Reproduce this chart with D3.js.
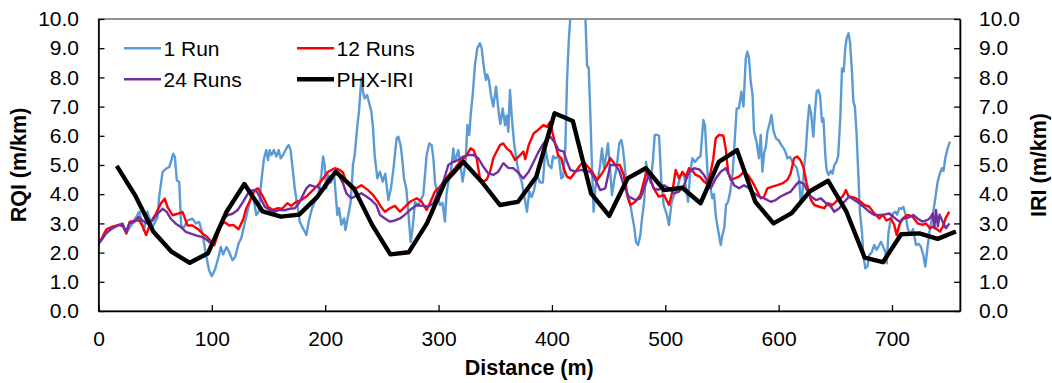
<!DOCTYPE html>
<html><head><meta charset="utf-8">
<script src="https://cdn.jsdelivr.net/npm/d3@7"></script>
<style>
html,body{margin:0;padding:0;background:#fff;}
svg text{font-family:"Liberation Sans",Arial,sans-serif;fill:#000;}
</style></head>
<body><svg id="chart" width="1052" height="383"></svg>
<script>
const xTicks=[0,100,200,300,400,500,600,700];
const yTicks=[0,1,2,3,4,5,6,7,8,9,10];
const seriesNames=["1 Run","12 Runs","24 Runs","PHX-IRI"];
const seriesColors=["#5B9BD5","#FF0000","#7030A0","#000000"];

const oneRun=[[0,2.3],[5,2.6],[10,2.8],[15,2.9],[20,2.95],[25,2.7],[30,3.0],[36,3.4],[40,2.75],[43,3.4],[47.6,2.88],[52,3.2],[53.5,3.9],[56.5,4.76],[59.4,4.87],[62.4,4.93],[63.8,5.1],[65.9,5.39],[67.4,5.27],[69.1,4.47],[71.2,4.42],[73,2.88],[75.6,2.88],[78.5,3.1],[82.9,3.16],[85.9,3.0],[88.8,3.05],[91.8,2.65],[94.1,2.08],[97.6,1.39],[100,1.19],[103,1.45],[105.9,1.85],[107.9,2.19],[110,1.94],[112.9,2.19],[115.3,2.02],[118.2,1.74],[120.6,1.85],[123.5,2.3],[126,2.5],[129,3.0],[132,3.5],[134.8,3.97],[137,3.8],[139.2,3.29],[141.3,3.4],[143.6,4.43],[146,5.23],[148,5.51],[149.5,5.17],[151,5.51],[152.5,5.34],[154.8,5.51],[156.9,5.29],[159,5.51],[160.7,5.23],[162.8,5.34],[166.6,5.63],[167.8,5.68],[169.5,5.51],[171.6,4.77],[173.1,4.2],[175.4,3.63],[177.5,3.06],[180.4,2.83],[183.4,2.6],[185.4,3.06],[188.4,3.52],[190.7,3.74],[193.5,3.9],[196.6,4.66],[198.1,5.29],[199.5,5.0],[201,4.2],[202.5,4.66],[205,4.4],[207.8,4.71],[210.7,3.29],[212.2,3.52],[214.2,2.95],[216.6,3.17],[217.8,2.77],[220.1,3.23],[222.5,3.74],[224.5,5.0],[226,5.34],[228.4,6.37],[229.8,6.83],[231.9,7.97],[233.4,7.51],[234.8,7.28],[237,7.4],[240.7,6.83],[242.2,6.26],[243.6,5.34],[246,4.54],[248.3,4.77],[250.7,4.43],[253,4.7],[255.7,3.8],[258,4.2],[260.1,4.83],[263,5.91],[264.5,5.97],[266.5,5.68],[268,5.2],[269.5,4.54],[271.5,4.2],[273.3,3.4],[275.4,2.37],[277.1,2.83],[279.2,3.74],[282,3.6],[284,3.8],[286.5,3.97],[289.5,5.34],[291.8,5.74],[293.9,5.68],[295.5,5.2],[296.8,4.43],[299,4.0],[301.2,3.63],[303.5,3.7],[305.6,3.06],[307,4.0],[309,4.5],[311,4.8],[313,5.57],[314.5,5.11],[317.4,5.51],[319,5.1],[321.2,4.43],[322.7,4.8],[324.2,5.34],[325.4,6.37],[327.1,6.03],[328.3,6.71],[330.1,7.4],[332.1,8.42],[334.2,9.0],[336.5,9.17],[338,9.0],[340.1,8.31],[341.8,7.91],[343,8.1],[344.5,7.9],[346.2,7.4],[348.3,7.0],[350.7,7.68],[352,7.2],[353.3,6.71],[354.5,6.4],[356.5,6.94],[358.6,6.37],[360,6.7],[361.5,6.14],[363,7.57],[364.5,6.7],[366.5,5.8],[368.9,5.11],[371,4.7],[373.3,4.43],[375.4,3.97],[378,3.4],[380,4.1],[382,3.9],[384,4.1],[386.8,4.66],[389.5,4.4],[392,4.4],[394.2,5.57],[397,5.0],[399.5,4.89],[401,5.3],[403,5.23],[406,5.3],[408.3,4.54],[410,4.6],[411.8,5.57],[413.3,7.85],[414.8,9.22],[416.3,10.1],[418,11.5],[422,12.5],[426,12],[429.5,10.1],[431,8.42],[432.5,8.3],[433.9,6.71],[435.4,4.89],[436.8,3.4],[438.5,4.3],[440.7,4.54],[442.5,5.0],[444.2,5.57],[446,4.9],[447.8,5.3],[449.5,5.74],[451,5.0],[453,3.97],[455,4.5],[457,4.9],[459.5,5.74],[461.2,5.86],[462.5,5.6],[464.2,5.0],[466.2,3.97],[468.5,3.8],[470.7,3.29],[472.5,2.9],[474.2,2.37],[476,2.26],[478,2.6],[479.5,3.17],[481.5,3.8],[483,5.11],[485,4.66],[487,4.4],[489,5.1],[490.7,6.03],[492.7,6.03],[494.5,6.0],[496.5,4.43],[498.6,3.63],[501.5,3.29],[503.3,2.94],[505.5,3.7],[507.7,3.97],[510.6,4.2],[513.6,4.66],[516.5,4.66],[520.1,3.74],[521.8,4.66],[523.9,5.23],[526.3,5.1],[528.7,5.23],[531.1,5.3],[532.1,5.8],[533.6,6.54],[535,6.37],[536.5,5.3],[537.7,4.43],[539.6,4.3],[541.5,3.86],[543,4.0],[544.5,3.29],[546,2.9],[547.4,2.6],[548.9,2.26],[550.4,2.6],[552,2.83],[553.6,3.63],[555.4,3.74],[557.3,4.09],[559.3,4.66],[561.2,5.8],[563,6.94],[565,6.94],[567.1,7.51],[569,7.0],[571,8.65],[572.4,8.88],[573.9,8.65],[575.4,7.85],[577,7.4],[578.3,6.14],[580.5,5.8],[582.7,5.23],[584.2,6.03],[585.7,4.77],[587.2,5.4],[588.7,5.63],[590.1,6.14],[592.4,6.48],[593.6,6.71],[595.6,6.14],[597.7,5.91],[600,5.85],[602.4,5.68],[604.5,5.57],[606.5,5.4],[607.7,5.23],[610,5.28],[612,5.1],[614,5.0],[616,4.9],[618,4.54],[619.5,3.74],[621,4.04],[622.5,4.9],[624.1,5.57],[625.5,6.4],[627,7.05],[628.5,6.8],[630.6,5.97],[632,6.8],[633.5,7.51],[635,7.57],[636.5,7.4],[638.2,6.48],[639.5,6.6],[641.2,5.34],[642.3,4.83],[644.1,4.66],[646,4.8],[647.5,4.7],[649.1,5.0],[651,5.1],[652.5,5.3],[654.4,6.6],[655.9,8.31],[657.4,8.2],[658.8,9.0],[660,9.34],[661.7,9.51],[663,9.2],[664.7,8.2],[665.9,7.17],[667.3,7.0],[668.8,6.03],[670.6,4.43],[671.7,3.4],[673.5,2.72],[674.7,1.92],[676.5,1.46],[678.5,1.55],[680,1.92],[682,2.0],[684.4,2.26],[686.4,2.1],[688,2.2],[690.3,2.37],[692.2,2.2],[694.1,2.03],[695.3,1.63],[697,2.72],[699.1,3.17],[701,3.35],[703,3.4],[704.5,3.3],[706.5,3.52],[708.5,3.5],[710,3.57],[712,3.3],[713.8,2.83],[716.7,2.6],[718.5,2.8],[721.2,2.26],[723.5,2.3],[725.5,2.2],[727.6,1.92],[729.4,1.52],[731.4,2.2],[733.5,2.83],[736,3.3],[738,3.8],[740.3,4.43],[742.2,4.7],[744.1,4.89],[745.5,4.8],[747,5.23],[749.1,5.57],[751.2,5.8]];

const twelveRuns=[[0,2.3],[3,2.5],[7,2.8],[13,2.9],[18,2.95],[22,2.9],[24.5,2.65],[27.5,3.05],[33,3.1],[36,3.1],[39,2.9],[42,2.6],[46.2,3.05],[50.6,3.33],[55,3.68],[58.5,3.85],[60.9,3.56],[65.3,3.28],[69.7,3.33],[74.1,3.39],[76,3.2],[78.5,2.93],[82.9,2.93],[87.4,2.82],[91.8,2.65],[95.4,2.55],[99,2.4],[102.1,2.25],[105,2.59],[107.5,2.9],[110.9,3.05],[115.3,2.93],[119,2.95],[123.5,2.8],[127.5,3.12],[130.4,3.52],[134,3.8],[137.8,4.14],[140.7,4.2],[145.1,3.92],[149.5,3.57],[154,3.46],[158.4,3.52],[162,3.5],[166.6,3.69],[170,3.6],[174.5,3.74],[178.9,3.8],[183.4,3.92],[187.8,4.09],[193.6,4.31],[198.1,4.54],[202.5,4.77],[208.4,4.89],[212.8,4.83],[215.5,4.75],[218.7,4.43],[223.1,4.2],[227.5,4.2],[231.9,4.31],[237.8,4.14],[242.2,3.97],[246.6,3.74],[249.5,3.55],[252.7,3.4],[257.1,3.52],[261.5,3.6],[266,3.4],[270.4,3.57],[274.8,3.74],[280.7,3.86],[285,3.75],[289.5,3.46],[293,3.75],[296.8,4.09],[301.2,4.26],[305.6,4.49],[310,4.71],[314.5,4.89],[318.9,5.11],[324.8,5.34],[328.3,5.57],[331,5.5],[333.6,5.23],[336.5,4.54],[339.5,4.43],[342.5,4.5],[345.4,4.77],[348.3,5.23],[351.2,5.46],[354.2,5.68],[357.1,5.74],[360.1,5.57],[363.6,5.46],[367.4,5.17],[371,5.3],[374.8,5.46],[376.5,5.2],[379.5,5.68],[383.9,6.08],[387.7,6.2],[392.7,6.37],[395.5,6.3],[398.6,6.48],[400.7,6.08],[403,5.7],[405.4,5.34],[408.3,5.23],[410.4,4.89],[413.3,4.6],[416.3,4.54],[420.7,4.77],[425.1,5.0],[428,5.11],[431.5,4.95],[435.4,4.77],[439.8,4.49],[444,4.7],[448.6,5.0],[451.5,5.23],[456,5.0],[460,5.0],[463.3,4.66],[467.1,3.86],[469.2,3.63],[473.6,3.74],[478,3.97],[483,4.71],[486,4.6],[489.8,4.2],[494.2,3.92],[498.9,3.97],[503.3,3.63],[506.3,4.09],[509.2,4.83],[512.1,4.54],[515.1,4.77],[518,4.6],[521,4.89],[524,4.8],[526.8,4.66],[530.5,4.6],[534.2,4.43],[537,4.35],[540.1,4.77],[542.3,5.2],[544.5,5.91],[547.4,6.03],[551.2,6.0],[553.3,5.57],[555.4,4.77],[557.7,4.49],[561.2,4.54],[565.1,4.6],[569.5,4.77],[573,4.65],[576.8,4.43],[580.5,4.15],[584.2,3.86],[587,3.9],[590.1,4.2],[594.5,4.26],[598.9,4.31],[603.3,4.37],[607.7,4.49],[610.5,4.7],[613.6,5.23],[616.5,5.29],[619.5,5.15],[622,4.9],[624.5,4.4],[628.5,3.8],[631.5,3.63],[635.9,3.57],[640.3,3.52],[643.2,3.69],[647.6,3.63],[652,3.8],[656.5,3.92],[659.4,4.14],[661.7,3.92],[665,3.9],[668.2,3.86],[672,3.75],[675.6,3.63],[680,3.57],[684.4,3.34],[688.8,3.17],[692,3.3],[695,3.1],[699.1,3.17],[702,2.95],[704.1,2.6],[706.5,2.95],[709.4,3.17],[713.8,3.29],[718.2,3.23],[722.6,3.0],[727,2.95],[730,3.0],[733.5,2.83],[736.5,2.9],[739.6,2.8],[742.3,2.72],[745,2.9],[747.5,3.2],[750.6,3.4]];

const twentyFourRuns=[[0,2.3],[3,2.45],[6.5,2.65],[11,2.8],[16.8,2.93],[21.2,2.99],[24.1,2.71],[27.1,2.99],[31.5,3.05],[35.3,3.22],[38.8,3.1],[43,3.0],[47.6,3.1],[52.1,3.33],[56.5,3.5],[60,3.4],[63.8,3.16],[68.2,2.99],[72.6,2.88],[77.1,2.71],[81.5,2.65],[85.9,2.59],[91.8,2.53],[95,2.45],[97.6,2.36],[101,2.4],[105,2.71],[109.4,3.1],[113.8,3.28],[118.2,3.33],[122.6,3.45],[127.5,3.74],[131.9,4.03],[136.3,4.14],[139.5,4.1],[143.1,3.86],[146.6,3.57],[151,3.46],[155.4,3.4],[159.8,3.46],[164,3.45],[168.5,3.5],[173.1,3.52],[177,3.7],[180.4,3.97],[183.4,4.2],[186.3,4.31],[190.7,4.26],[193.5,4.25],[196.6,4.14],[200,4.35],[204,4.6],[208.4,4.71],[212,4.65],[215.7,4.37],[218.7,4.03],[223.1,3.86],[227.5,3.95],[231.9,4.03],[236.3,3.92],[240.7,3.8],[245.1,3.63],[248.3,3.29],[252.7,3.17],[257.1,3.06],[261.5,3.1],[266,3.17],[270.4,3.3],[274.8,3.46],[280.7,3.63],[285.5,3.6],[290.9,3.57],[295.4,3.69],[299.8,4.09],[304.2,4.43],[308.6,5.0],[313,5.11],[317.4,5.17],[321.8,5.29],[326.2,5.34],[330.5,5.34],[335.1,5.23],[339.5,4.94],[343.9,4.71],[348.3,4.66],[352.7,4.77],[357.1,5.06],[361.5,4.9],[365.9,4.89],[370,4.75],[374.8,4.54],[379.5,4.77],[383.9,5.11],[388.3,5.46],[392,5.7],[395.7,5.91],[398.6,5.97],[402,5.8],[406,5.51],[410.4,5.46],[413.3,5.11],[416.3,4.83],[420.7,4.77],[425.1,4.83],[429.5,4.8],[433.9,4.77],[438.3,4.49],[442.7,4.14],[447.1,4.2],[451.5,5.0],[456,5.0],[459.5,4.8],[463.3,4.31],[467.7,3.92],[473.6,3.8],[478,3.86],[482.4,4.31],[485.4,4.66],[489.8,4.2],[494.2,4.15],[498.9,4.31],[503.5,4.2],[507.7,4.03],[512.1,4.09],[516.5,4.3],[521,4.77],[525.4,4.89],[530,4.85],[534.2,4.66],[537.5,4.4],[540.1,4.2],[544.5,4.54],[548.9,4.77],[553.3,4.89],[557,4.6],[560.7,4.31],[565.1,4.2],[569.5,4.31],[573.9,4.2],[578.3,4.03],[582.7,3.92],[587.1,3.86],[593,3.74],[597.4,3.8],[601.8,3.92],[606,4.0],[610.7,4.09],[615.1,4.31],[618,4.43],[622.5,4.35],[624.1,4.2],[628.5,3.92],[632.9,3.8],[637.3,3.86],[641.5,3.7],[646.2,3.57],[649.1,3.4],[653.5,3.52],[657.9,3.74],[662.3,3.92],[666.7,3.8],[671.2,3.69],[675.5,3.55],[680,3.4],[684.4,3.29],[688.8,3.29],[693,3.3],[697.6,3.34],[702,3.2],[706.5,3.06],[710.9,3.17],[714.8,3.2],[718.8,3.29],[723,3.15],[727,3.06],[731.5,3.12],[734,3.2],[735.9,3.34],[737.3,2.83],[738.8,3.46],[740.5,2.9],[742,3.3],[744.7,3.06],[747.6,2.83],[750.6,3.0]];

const phxDist=[16.1,32.2,48.3,64.4,80.5,96.6,112.7,128.7,144.8,160.9,177.0,193.1,209.2,225.3,241.4,257.5,273.6,289.7,305.8,321.9,338.0,354.1,370.1,386.2,402.3,418.4,434.5,450.6,466.7,482.8,498.9,515.0,531.1,547.2,563.3,579.4,595.5,611.5,627.6,643.7,659.8,675.9,692.0,708.1,724.2,740.3,756.4];
const phxIri=[4.97,3.97,2.72,2.03,1.65,1.98,3.38,4.35,3.41,3.23,3.3,3.91,4.77,4.2,2.95,1.94,2.01,3.0,4.43,5.11,4.43,3.63,3.74,4.6,6.77,6.51,4.03,3.26,4.54,4.89,4.14,4.22,3.69,5.11,5.51,3.74,3.0,3.35,4.1,4.46,3.4,1.83,1.67,2.63,2.66,2.47,2.72];

const W=1052,H=383;
const L=98.5,R=960,T=19,B=311;
const svg=d3.select("#chart");
const x=d3.scaleLinear().domain([0,760]).range([L,R]);
const yL=d3.scaleLinear().domain([0,10]).range([B,T]);
const yR=d3.scaleLinear().domain([0,10]).range([B,T]);
const FS=21;

svg.append("defs").append("clipPath").attr("id","plotclip")
  .append("rect").attr("x",L).attr("y",T).attr("width",R-L).attr("height",B-T);

// plot border
svg.append("rect").attr("x",L).attr("y",T).attr("width",R-L).attr("height",B-T)
  .attr("fill","none").attr("stroke","#595959").attr("stroke-width",1.3);

const gLines=svg.append("g").attr("clip-path","url(#plotclip)");
const lineXY=d3.line().x(d=>x(d[0])).y(d=>yL(d[1]));
const dataSets=[oneRun,twelveRuns,twentyFourRuns];
dataSets.forEach((ds,i)=>{
  gLines.append("path").datum(ds).attr("d",lineXY)
    .attr("fill","none").attr("stroke",seriesColors[i]).attr("stroke-width",2.4)
    .attr("stroke-linejoin","round");
});
const phx=phxDist.map((d,i)=>[d,phxIri[i]]);
const lineR=d3.line().x(d=>x(d[0])).y(d=>yR(d[1]));
gLines.append("path").datum(phx).attr("d",lineR)
  .attr("fill","none").attr("stroke","#000").attr("stroke-width",4.4)
  .attr("stroke-linejoin","round");

// axes
const fmt=d3.format(".1f");
const xAxis=d3.axisBottom(x).tickValues(xTicks).tickFormat(d3.format("d"))
  .tickSizeInner(-6).tickSizeOuter(0).tickPadding(20);
const gx=svg.append("g").attr("transform",`translate(0,${B})`).call(xAxis);
const yAxisL=d3.axisLeft(yL).tickValues(yTicks).tickFormat(fmt)
  .tickSizeInner(-6).tickSizeOuter(0).tickPadding(19.5);
const gyl=svg.append("g").attr("transform",`translate(${L},0)`).call(yAxisL);
const yAxisR=d3.axisRight(yR).tickValues(yTicks).tickFormat(fmt)
  .tickSizeInner(-6).tickSizeOuter(0).tickPadding(19);
const gyr=svg.append("g").attr("transform",`translate(${R},0)`).call(yAxisR);
[gx,gyl,gyr].forEach(g=>{
  g.select(".domain").attr("stroke","#000").attr("stroke-width",1.6);
  g.selectAll(".tick line").attr("stroke","#000").attr("stroke-width",1.3);
  g.selectAll(".tick text").attr("font-size",FS).attr("font-family","Liberation Sans, Arial, sans-serif").attr("fill","#000");
});

// axis titles
svg.append("text").attr("x",(L+R)/2).attr("y",375).attr("text-anchor","middle")
  .attr("font-size",21.5).attr("font-weight","bold").text("Distance (m)");
svg.append("text").attr("transform",`translate(25.5,${(T+B)/2}) rotate(-90)`).attr("text-anchor","middle")
  .attr("font-size",21.5).attr("font-weight","bold").text("RQI (m/km)");
svg.append("text").attr("transform",`translate(1046,${(T+B)/2}) rotate(-90)`).attr("text-anchor","middle")
  .attr("font-size",21.5).attr("font-weight","bold").text("IRI (m/km)");

// legend
const legPos=[[124,48.3],[297,48.3],[124,79.3],[297,79.3]];
const legW=[2.4,2.4,2.4,4.4];
seriesNames.forEach((n,i)=>{
  const [lx,ly]=legPos[i];
  svg.append("line").attr("x1",lx).attr("x2",lx+37).attr("y1",ly).attr("y2",ly)
    .attr("stroke",seriesColors[i]).attr("stroke-width",legW[i]);
  svg.append("text").attr("x",lx+39.5).attr("y",ly).attr("dy","0.35em")
    .attr("font-size",FS).text(n);
});
</script>
</body></html>
